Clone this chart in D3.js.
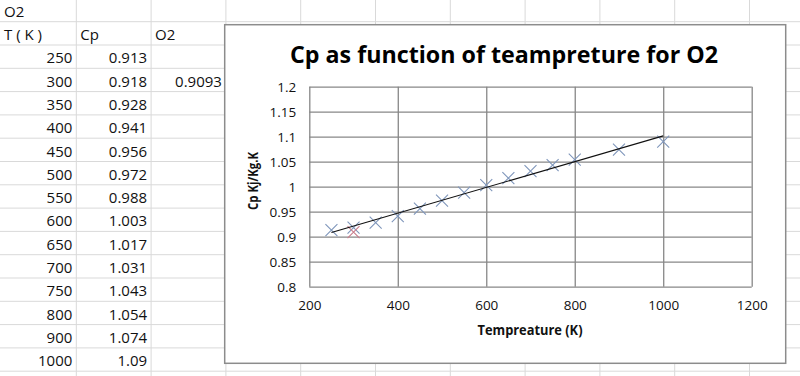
<!DOCTYPE html>
<html>
<head>
<meta charset="utf-8">
<script src="https://cdn.jsdelivr.net/npm/d3@7"></script>
<style>
  body { margin: 0; background: #fff; }
  text { font-family: "Open Sans", "Noto Sans", sans-serif; fill: #111; }
</style>
</head>
<body>
<div id="root"></div>
<script>
// Spreadsheet values
const tempK = [250, 300, 350, 400, 450, 500, 550, 600, 650, 700, 750, 800, 900, 1000];
const cpText = ["0.913", "0.918", "0.928", "0.941", "0.956", "0.972", "0.988", "1.003", "1.017", "1.031", "1.043", "1.054", "1.074", "1.09"];
const cp = cpText.map(Number);
const o2Temp = [300];
const o2Cp = [0.9093];

// Axis ticks
const xTicks = [200, 400, 600, 800, 1000, 1200];
const yTicks = [0.8, 0.85, 0.9, 0.95, 1, 1.05, 1.1, 1.15, 1.2];

const W = 800, H = 376;
const svg = d3.select("#root").append("svg")
    .attr("width", W)
    .attr("height", H);

// --- sheet grid behind the chart ---
const colW = 74.8, col0 = 1.5;
const rowH = 23.3, row0 = -1.6;
const sheet = svg.append("g").attr("class", "sheet");
d3.range(1, 11).forEach(k => {
    sheet.append("line")
        .attr("x1", col0 + k * colW).attr("x2", col0 + k * colW)
        .attr("y1", 0).attr("y2", H)
        .attr("stroke", "#d9d9d9").attr("stroke-width", 1);
});
d3.range(1, 17).forEach(k => {
    sheet.append("line")
        .attr("x1", 0).attr("x2", W)
        .attr("y1", row0 + k * rowH).attr("y2", row0 + k * rowH)
        .attr("stroke", "#d9d9d9").attr("stroke-width", 1);
});

const cellText = (col, row, txt, align) => {
    const left = col0 + col * colW - (col === 0 ? col0 : 0);
    const t = sheet.append("text")
        .attr("y", row0 + row * rowH + 18.3)
        .style("font-size", "15px")
        .text(txt);
    if (align === "right") {
        t.attr("x", col0 + (col + 1) * colW - 4).attr("text-anchor", "end");
    } else {
        t.attr("x", left + 4);
    }
};
cellText(0, 0, "O2", "left");
cellText(0, 1, "T ( K )", "left");
cellText(1, 1, "Cp", "left");
cellText(2, 1, "O2", "left");
tempK.forEach((t, i) => {
    cellText(0, i + 2, String(t), "right");
    cellText(1, i + 2, cpText[i], "right");
});
o2Temp.forEach((t, j) => {
    const i = tempK.indexOf(t);
    cellText(2, i + 2, String(o2Cp[j]), "right");
});

// --- chart object ---
const box = { x: 224.7, y: 24.7, w: 561, h: 338.6 };
svg.append("rect")
    .attr("x", box.x).attr("y", box.y)
    .attr("width", box.w).attr("height", box.h)
    .attr("fill", "#fff")
    .attr("stroke", "#8c8c8c")
    .attr("stroke-width", 1.5);

svg.append("text")
    .attr("x", 504).attr("y", 63)
    .attr("text-anchor", "middle")
    .attr("textLength", 428)
    .attr("lengthAdjust", "spacingAndGlyphs")
    .style("font-size", "24px")
    .style("font-weight", "bold")
    .style("fill", "#000")
    .text("Cp as function of teampreture for O2");

const plot = { left: 309.3, top: 86.7, width: 442.4, height: 200 };

const xScale = d3.scaleLinear()
    .domain([200, 1200])
    .range([0, plot.width]);
const yScale = d3.scaleLinear()
    .domain([0.8, 1.2])
    .range([plot.height, 0]);

const g = svg.append("g")
    .attr("transform", `translate(${plot.left},${plot.top})`);

// gridlines + labels via axes
const yAxis = d3.axisLeft(yScale)
    .tickValues(yTicks)
    .tickSize(-plot.width)
    .tickPadding(13)
    .tickFormat(d => String(d));
const xAxis = d3.axisBottom(xScale)
    .tickValues(xTicks)
    .tickSize(-plot.height)
    .tickPadding(14)
    .tickFormat(d => String(d));

const gy = g.append("g").call(yAxis);
const gx = g.append("g").attr("transform", `translate(0,${plot.height})`).call(xAxis);
[gx, gy].forEach(a => {
    a.select(".domain").remove();
    a.selectAll(".tick line").attr("stroke", "#878787").attr("stroke-width", 1.3);
    a.selectAll(".tick text")
        .style("font-size", "13.5px")
        .style("font-family", "'Open Sans', sans-serif")
        .attr("fill", "#1a1a1a");
});
gy.selectAll(".tick text").attr("dy", "0.36em");

// markers
const mk = 6;
const drawX = (sel, color) => {
    sel.append("path")
        .attr("d", `M${-mk},${-mk}L${mk},${mk}M${-mk},${mk}L${mk},${-mk}`)
        .attr("stroke", color)
        .attr("stroke-width", 1.1)
        .attr("fill", "none");
};
const cpPts = g.append("g").selectAll("g")
    .data(tempK.map((t, i) => [t, cp[i]]))
    .join("g")
    .attr("transform", d => `translate(${xScale(d[0])},${yScale(d[1])})`);
drawX(cpPts, "#7f96bb");

const o2Pts = g.append("g").selectAll("g")
    .data(o2Temp.map((t, i) => [t, o2Cp[i]]))
    .join("g")
    .attr("transform", d => `translate(${xScale(d[0])},${yScale(d[1])})`);
drawX(o2Pts, "#c97d8c");

// linear trendline (least squares over the Cp series)
const mx = d3.mean(tempK), my = d3.mean(cp);
const slope = d3.sum(tempK, (t, i) => (t - mx) * (cp[i] - my)) / d3.sum(tempK, t => (t - mx) ** 2);
const icept = my - slope * mx;
const xr = d3.extent(tempK);
const line = d3.line()
    .x(d => xScale(d))
    .y(d => yScale(icept + slope * d));
g.append("path")
    .datum(xr)
    .attr("fill", "none")
    .attr("stroke", "#111")
    .attr("stroke-width", 1.1)
    .attr("d", line);

// axis titles
svg.append("text")
    .attr("x", 530).attr("y", 335)
    .attr("text-anchor", "middle")
    .attr("textLength", 105)
    .attr("lengthAdjust", "spacingAndGlyphs")
    .style("font-size", "14px")
    .style("font-weight", "bold")
    .text("Tempreature (K)");

svg.append("text")
    .attr("transform", "translate(258,181) rotate(-90)")
    .attr("text-anchor", "middle")
    .attr("textLength", 58)
    .attr("lengthAdjust", "spacingAndGlyphs")
    .style("font-size", "14px")
    .style("font-weight", "bold")
    .text("Cp Kj/Kg.K");
</script>
</body>
</html>
